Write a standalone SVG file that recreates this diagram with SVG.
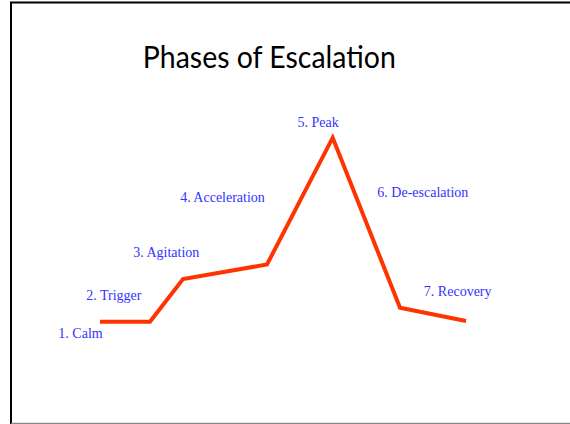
<svg xmlns="http://www.w3.org/2000/svg" width="570" height="424" viewBox="0 0 570 424">
<style>
.lbl{font-family:"Liberation Serif","Times New Roman",serif;font-size:14px;fill:#3333ff;text-anchor:middle}
.title{font-family:Lato,"Liberation Sans",sans-serif;font-size:31px;fill:#000;text-anchor:middle}
.curve{fill:none;stroke:#ff3300;stroke-width:4;stroke-linejoin:miter}
</style>
<rect x="0" y="0" width="570" height="424" fill="#fff"/>
<g id="frame">
<line x1="10" y1="2.5" x2="570" y2="2.5" stroke="#000" stroke-width="2"/>
<line x1="11" y1="2" x2="11" y2="424" stroke="#000" stroke-width="2"/>
<line x1="11" y1="423.3" x2="570" y2="423.3" stroke="#888" stroke-width="1.2"/>
</g>
<g id="title">
<text class="title" x="269.3" y="68.3" textLength="253" lengthAdjust="spacingAndGlyphs">Phases of Escalation</text>
</g>
<g id="connectors">
<polyline class="curve" points="100,321.7 150,321.7 183,279 267,264.5 332.7,137.7 400,307.7 466,321"/>
</g>
<g id="calm"><text class="lbl" x="80.5" y="338">1. Calm</text></g>
<g id="trigger"><text class="lbl" x="113.8" y="300">2. Trigger</text></g>
<g id="agitation"><text class="lbl" x="166.3" y="257.3">3. Agitation</text></g>
<g id="acceleration"><text class="lbl" x="222.5" y="201.7">4. Acceleration</text></g>
<g id="peak"><text class="lbl" x="318.2" y="126.7">5. Peak</text></g>
<g id="deescalation"><text class="lbl" x="422.8" y="196.7">6. De-escalation</text></g>
<g id="recovery"><text class="lbl" x="457.7" y="296">7. Recovery</text></g>
</svg>
